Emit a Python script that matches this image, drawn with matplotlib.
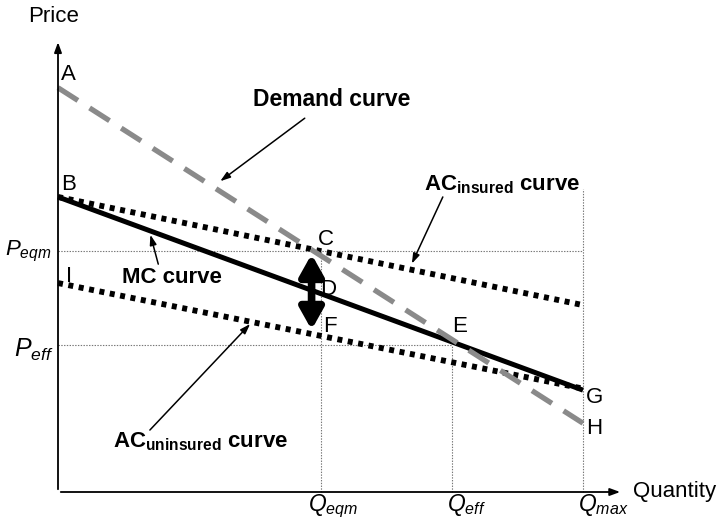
import numpy as np
import matplotlib.pyplot as plt

plt.rcParams['font.family'] = ['Liberation Sans', 'DejaVu Sans']
plt.rcParams['mathtext.fontset'] = 'custom'
plt.rcParams['mathtext.it'] = 'Liberation Sans:italic'
plt.rcParams['mathtext.rm'] = 'Liberation Sans'
plt.rcParams['mathtext.bf'] = 'Liberation Sans:bold'
plt.rcParams['lines.scale_dashes'] = False

# quantities on the x axis
q_eqm, q_eff, q_max = 5.0, 7.5, 10.0
# prices on the y axis
p_eqm, p_eff = 4.59, 2.80

# curve end points (at Q=0 and Q=Q_max)
demand = [7.70, 1.31]
mc = [5.62, 1.94]
ac_insured = [5.62, 3.56]
ac_uninsured = [3.98, 1.97]
q_ends = [0.0, q_max]

# point labels
pt_labels = ['A', 'B', 'C', 'D', 'E', 'F', 'G', 'H', 'I']
pt_x = [0.05, 0.05, 4.95, 5.0, 7.5, 5.05, 10.05, 10.05, 0.15]
pt_y = [7.95, 5.85, 4.80, 3.85, 3.15, 3.15, 1.80, 1.20, 4.10]

fig = plt.figure(figsize=(7.24, 5.28), dpi=100)
ax = fig.add_axes([0, 0, 1, 1])
s = 52.5
ax.set_xlim(-58 / s, (724 - 58) / s)
ax.set_ylim(-36 / s, (528 - 36) / s)
ax.axis('off')

# axes with arrows
ax.annotate('', xy=(0, 8.62), xytext=(0, 0),
            arrowprops=dict(arrowstyle='-|>,head_length=0.6,head_width=0.22', color='black', lw=1.3))
ax.annotate('', xy=(10.76, 0), xytext=(0, 0),
            arrowprops=dict(arrowstyle='-|>,head_length=0.6,head_width=0.22', color='black', lw=1.3))
ax.text(-0.08, 9.06, 'Price', fontsize=16, ha='center', va='center')
ax.text(10.95, 0.0, 'Quantity', fontsize=16, ha='left', va='center')

# guide lines
gkw = dict(color='#777777', lw=0.8, ls=(0, (1, 1)))
ax.plot([0, q_max], [p_eqm, p_eqm], **gkw)
ax.plot([0, q_eff], [p_eff, p_eff], **gkw)
ax.plot([q_eqm, q_eqm], [0, p_eqm], **gkw)
ax.plot([q_eff, q_eff], [0, p_eff], **gkw)
ax.plot([q_max, q_max], [0, 5.78], **gkw)

# curves
ax.plot(q_ends, ac_insured, color='black', lw=4.2, dashes=(3.6, 4.0), dash_capstyle='butt')
ax.plot(q_ends, ac_uninsured, color='black', lw=4.2, dashes=(3.6, 4.0), dash_capstyle='butt')
ax.plot(q_ends, mc, color='black', lw=3.6, solid_capstyle='butt')
ax.plot(q_ends, demand, color='#8a8a8a', lw=3.8, dashes=(17, 10), dash_capstyle='butt')

# double arrow between C and F
ax.annotate('', xy=(4.83, 3.09), xytext=(4.83, 4.53),
            arrowprops=dict(arrowstyle='<|-|>,head_length=1.25,head_width=0.7',
                            color='black', lw=5.5, shrinkA=0, shrinkB=0))

for lab, x, y in zip(pt_labels, pt_x, pt_y):
    ax.text(x, y, lab, fontsize=16, ha='left', va='center')

# price / quantity labels
ax.text(-0.13, 4.50, r'$P_{eqm}$', fontsize=16, ha='right', va='baseline')
ax.text(-0.09, 2.57, r'$P_{eff}$', fontsize=18, ha='right', va='baseline')
ax.text(4.76, -0.37, r'$Q_{eqm}$', fontsize=16.5, ha='left', va='baseline')
ax.text(7.41, -0.37, r'$Q_{eff}$', fontsize=16.5, ha='left', va='baseline')
ax.text(9.90, -0.37, r'$Q_{max}$', fontsize=16.5, ha='left', va='baseline')

# curve labels with arrows
akw = dict(arrowstyle='-|>,head_length=0.6,head_width=0.2', color='black', lw=1.1, shrinkA=0, shrinkB=0)
ax.text(5.22, 7.47, 'Demand curve', fontsize=16.5, fontweight='bold', ha='center', va='center')
ax.annotate('', xy=(3.09, 5.92), xytext=(4.70, 7.12), arrowprops=akw)

ax.text(9.94, 5.85, r'$\mathbf{AC}_{\mathbf{insured}}$ curve', fontsize=16, fontweight='bold', ha='right', va='center')
ax.annotate('', xy=(6.74, 4.35), xytext=(7.33, 5.62), arrowprops=akw)

ax.text(2.17, 4.08, 'MC curve', fontsize=16, fontweight='bold', ha='center', va='center')
ax.annotate('', xy=(1.76, 4.9), xytext=(1.91, 4.34), arrowprops=akw)

ax.text(2.71, 0.95, r'$\mathbf{AC}_{\mathbf{uninsured}}$ curve', fontsize=16, fontweight='bold', ha='center', va='center')
ax.annotate('', xy=(3.66, 3.2), xytext=(1.75, 1.18), arrowprops=akw)

fig.savefig('out.png', dpi=100)
